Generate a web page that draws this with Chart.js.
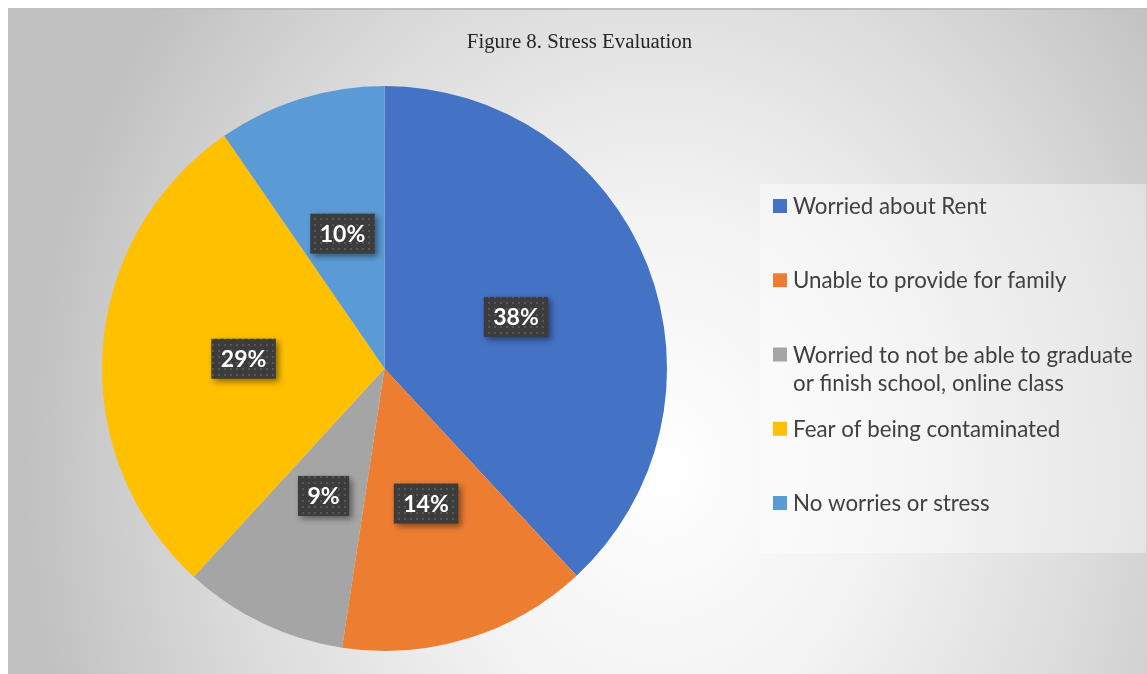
<!DOCTYPE html>
<html>
<head>
<meta charset="utf-8">
<script src="https://cdn.jsdelivr.net/npm/chart.js@4"></script>
<style>
  html, body { margin: 0; padding: 0; background: #ffffff; }
  canvas { display: block; }
</style>
</head>
<body>
<canvas id="stressChart" width="1147" height="674"></canvas>
<script>
// Chart data
const chartTitle = 'Figure 8. Stress Evaluation';
const categories = [
    'Worried about Rent',
    'Unable to provide for family',
    ['Worried to not be able to graduate', 'or finish school, online class'],
    'Fear of being contaminated',
    'No worries or stress'
];
const shares = [38.1, 14.3, 9.4, 28.6, 9.6];
const sliceColors = ['#4472c4', '#ed7d31', '#a5a5a5', '#ffc000', '#5b9bd5'];

const total = shares.reduce((a, b) => a + b, 0);
const percentLabels = shares.map(v => Math.round(v / total * 100) + '%');

// dotted dark fill used behind the data labels
function makeLabelPattern(ctx) {
    const tile = document.createElement('canvas');
    tile.width = 6;
    tile.height = 6;
    const t = tile.getContext('2d');
    t.fillStyle = '#3c3c3c';
    t.fillRect(0, 0, 6, 6);
    t.fillStyle = '#575757';
    t.fillRect(2, 2, 2, 2);
    return ctx.createPattern(tile, 'repeat');
}

// chart area background with radial gradient and border
const backgroundPlugin = {
    id: 'chartBackground',
    beforeDraw(chart) {
        const ctx = chart.ctx;
        const w = chart.width, h = chart.height;
        ctx.save();
        ctx.fillStyle = '#ffffff';
        ctx.fillRect(0, 0, w, h);
        ctx.translate(660, 470);
        ctx.scale(1, 760 / 640);
        const g = ctx.createRadialGradient(0, 0, 0, 0, 0, 640);
        g.addColorStop(0, '#ffffff');
        g.addColorStop(0.35, '#f2f2f2');
        g.addColorStop(0.7, '#dadada');
        g.addColorStop(1, '#c0c0c0');
        ctx.fillStyle = g;
        ctx.fillRect(-660 + 8, (-470 + 8) * 640 / 760, w, h * 640 / 760);
        ctx.restore();
        ctx.fillStyle = '#bfbfbf';
        ctx.fillRect(8, 8, w - 8, 2);
        ctx.fillRect(8, 8, 2, h - 8);
    }
};

// percentage boxes on each slice
const sliceLabelPlugin = {
    id: 'sliceLabels',
    afterDatasetsDraw(chart) {
        const ctx = chart.ctx;
        const meta = chart.getDatasetMeta(0);
        const pattern = makeLabelPattern(ctx);
        ctx.save();
        ctx.font = 'bold 23px Lato';
        ctx.textAlign = 'center';
        ctx.textBaseline = 'middle';
        meta.data.forEach((arc, i) => {
            const pos = arc.tooltipPosition();
            const text = percentLabels[i];
            const bw = ctx.measureText(text).width + 19;
            const bh = 40;
            ctx.save();
            ctx.shadowColor = 'rgba(0,0,0,0.45)';
            ctx.shadowBlur = 6;
            ctx.shadowOffsetX = 3;
            ctx.shadowOffsetY = 3;
            ctx.fillStyle = pattern;
            ctx.fillRect(pos.x - bw / 2, pos.y - bh / 2, bw, bh);
            ctx.restore();
            ctx.fillStyle = '#ffffff';
            ctx.fillText(text, pos.x, pos.y + 1);
        });
        ctx.restore();
    }
};

// title and legend panel
const titleLegendPlugin = {
    id: 'titleLegend',
    afterDraw(chart) {
        const ctx = chart.ctx;
        ctx.save();
        ctx.fillStyle = '#262626';
        ctx.font = '20.8px "Liberation Serif"';
        ctx.textAlign = 'center';
        ctx.textBaseline = 'middle';
        ctx.fillText(chartTitle, 579.5, 43);

        ctx.fillStyle = 'rgba(255,255,255,0.4)';
        ctx.fillRect(760, 184, 386, 369);

        ctx.font = '22.3px Lato';
        ctx.textAlign = 'left';
        categories.forEach((label, i) => {
            const y = 206 + i * 74.25;
            ctx.fillStyle = sliceColors[i];
            ctx.fillRect(773, y - 7, 14, 14);
            ctx.fillStyle = '#404040';
            const lines = Array.isArray(label) ? label : [label];
            lines.forEach((line, j) => ctx.fillText(line, 793, y + 1 + j * 28));
        });
        ctx.restore();
    }
};

const ctx = document.getElementById('stressChart').getContext('2d');
const stressChart = new Chart(ctx, {
    type: 'pie',
    data: {
        labels: categories,
        datasets: [{
            data: shares,
            backgroundColor: sliceColors,
            borderWidth: 0
        }]
    },
    options: {
        responsive: false,
        animation: false,
        layout: {
            padding: { left: 102, right: 480, top: 86, bottom: 23 }
        },
        plugins: {
            legend: { display: false },
            title: { display: false },
            tooltip: { enabled: false }
        }
    },
    plugins: [backgroundPlugin, sliceLabelPlugin, titleLegendPlugin]
});
</script>
</body>
</html>
